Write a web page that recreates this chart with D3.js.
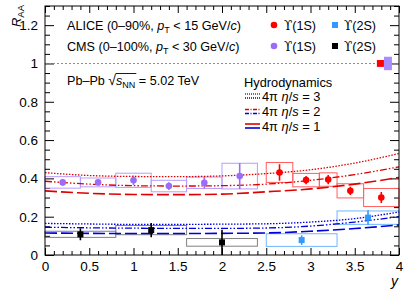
<!DOCTYPE html>
<html><head><meta charset="utf-8">
<script src="https://cdn.jsdelivr.net/npm/d3@7"></script>
<style>
body{margin:0;background:#fff}
svg{display:block}
text{font-family:"Liberation Sans",Arial,Helvetica,sans-serif;fill:#000}
</style>
</head><body>
<svg id="c" width="407" height="294"></svg>
<script>
// ---------------- DATA ----------------
// ALICE Upsilon(1S), 0-90%
const aliceY1S_y    = [2.65, 2.95, 3.2, 3.45, 3.8];
const aliceY1S_lo   = [2.5, 2.8, 3.1, 3.3, 3.6];
const aliceY1S_hi   = [2.8, 3.1, 3.3, 3.6, 4.0];
const aliceY1S_raa  = [0.431, 0.391, 0.394, 0.335, 0.300];
const aliceY1S_stat = [0.043, 0.021, 0.024, 0.022, 0.029];
const aliceY1S_syst = [0.052, 0.035, 0.035, 0.037, 0.047];
// ALICE Upsilon(2S)
const aliceY2S_y    = [2.9, 3.65];
const aliceY2S_lo   = [2.5, 3.3];
const aliceY2S_hi   = [3.3, 4.0];
const aliceY2S_raa  = [0.078, 0.195];
const aliceY2S_stat = [0.025, 0.039];
const aliceY2S_syst = [0.033, 0.035];
// CMS Upsilon(1S), 0-100%
const cmsY1S_y    = [0.2, 0.6, 1.0, 1.4, 1.8, 2.2];
const cmsY1S_lo   = [0.0, 0.4, 0.8, 1.2, 1.6, 2.0];
const cmsY1S_hi   = [0.4, 0.8, 1.2, 1.6, 2.0, 2.4];
const cmsY1S_raa  = [0.379, 0.379, 0.390, 0.360, 0.377, 0.412];
const cmsY1S_stat = [0.018, 0.015, 0.025, 0.020, 0.030, 0.068];
const cmsY1S_syst = [0.030, 0.023, 0.037, 0.030, 0.030, 0.067];
// CMS Upsilon(2S)
const cmsY2S_y    = [0.4, 1.2, 2.0];
const cmsY2S_lo   = [0.0, 0.8, 1.6];
const cmsY2S_hi   = [0.8, 1.6, 2.4];
const cmsY2S_raa  = [0.108, 0.130, 0.066];
const cmsY2S_stat = [0.031, 0.037, 0.066];
const cmsY2S_syst = [0.016, 0.024, 0.020];
// Global uncertainties at RAA = 1
const globalNames = ["ALICE", "CMS"];
const globalErr   = [0.018, 0.035];

// Hydrodynamics predictions
const hydroY      = [0, 0.5, 1, 1.5, 2, 2.5, 3, 3.5, 4];
const hydro1S_eta3 = [0.430, 0.415, 0.410, 0.409, 0.413, 0.425, 0.445, 0.480, 0.530];
const hydro1S_eta2 = [0.385, 0.370, 0.362, 0.360, 0.362, 0.370, 0.390, 0.420, 0.460];
const hydro1S_eta1 = [0.335, 0.322, 0.316, 0.315, 0.318, 0.330, 0.345, 0.370, 0.405];
const hydro2S_eta3 = [0.165, 0.162, 0.160, 0.160, 0.161, 0.163, 0.172, 0.190, 0.225];
const hydro2S_eta2 = [0.145, 0.142, 0.140, 0.139, 0.139, 0.141, 0.151, 0.172, 0.200];
const hydro2S_eta1 = [0.115, 0.113, 0.112, 0.112, 0.113, 0.115, 0.124, 0.138, 0.157];
const hydroLabels  = ["3", "2", "1"];

// Axis ticks
const xTicks = [0, 0.5, 1, 1.5, 2, 2.5, 3, 3.5, 4];
const xTickLabels = ["0", "0.5", "1", "1.5", "2", "2.5", "3", "3.5", "4"];
const yTicks = [0, 0.2, 0.4, 0.6, 0.8, 1.0, 1.2];
const yTickLabels = ["0", "0.2", "0.4", "0.6", "0.8", "1", "1.2"];

// ---------------- DRAW ----------------
const svg = d3.select("#c");
const L = 45, R = 399, T = 6, B = 255;
const x = d3.scaleLinear([0, 4], [L, R]);
const y = d3.scaleLinear([0, 1.3], [B, T]);

const C = {
  red: "#ff0000", redBox: "#ff5f5f",
  pur: "#9b6cf6", purBox: "#b69cff",
  blu: "#3399ff", bluBox: "#6fb6ff",
  blk: "#000000", blkBox: "#808080",
  hRed: "#e00000", hBlue: "#0000dd"
};

// ticks
const xMinor = d3.range(0, 41).map(i => i / 10).filter(v => Math.abs(v * 2 - Math.round(v * 2)) > 1e-6);
const yMinor = d3.range(0, 27).map(i => i * 0.05).filter(v => Math.abs(v * 5 - Math.round(v * 5)) > 1e-6);

function styleAxis(g) {
  g.select(".domain").remove();
  g.selectAll("line").attr("stroke", "#000").attr("stroke-width", 1);
  g.selectAll("text").attr("font-size", 13.5).attr("fill", "#000")
    .attr("font-family", '"Liberation Sans",Arial,sans-serif');
}
svg.append("g").attr("transform", `translate(0,${B})`)
  .call(d3.axisBottom(x).tickValues(xTicks).tickSize(-7).tickPadding(6)
    .tickFormat((d, i) => xTickLabels[i])).call(styleAxis);
svg.append("g").attr("transform", `translate(0,${B})`)
  .call(d3.axisBottom(x).tickValues(xMinor).tickSize(-4).tickFormat("")).call(styleAxis);
svg.append("g").attr("transform", `translate(0,${T})`)
  .call(d3.axisTop(x).tickValues(xTicks).tickSize(-7).tickFormat("")).call(styleAxis);
svg.append("g").attr("transform", `translate(0,${T})`)
  .call(d3.axisTop(x).tickValues(xMinor).tickSize(-4).tickFormat("")).call(styleAxis);
svg.append("g").attr("transform", `translate(${L},0)`)
  .call(d3.axisLeft(y).tickValues(yTicks).tickSize(-9).tickPadding(7)
    .tickFormat((d, i) => yTickLabels[i])).call(styleAxis);
svg.append("g").attr("transform", `translate(${L},0)`)
  .call(d3.axisLeft(y).tickValues(yMinor).tickSize(-5).tickFormat("")).call(styleAxis);
svg.append("g").attr("transform", `translate(${R},0)`)
  .call(d3.axisRight(y).tickValues(yTicks).tickSize(-9).tickFormat("")).call(styleAxis);
svg.append("g").attr("transform", `translate(${R},0)`)
  .call(d3.axisRight(y).tickValues(yMinor).tickSize(-5).tickFormat("")).call(styleAxis);

// dotted line at 1
svg.append("line").attr("x1", x(0)).attr("x2", x(4)).attr("y1", y(1)).attr("y2", y(1))
  .attr("stroke", "#8a8a8a").attr("stroke-width", 1).attr("stroke-dasharray", "2,2");

// global boxes
const gX = [[3.75, 3.83], [3.83, 3.92]];
const gCol = [C.red, "#a98cff"];
globalErr.forEach((e, i) => {
  svg.append("rect").attr("x", x(gX[i][0])).attr("width", x(gX[i][1]) - x(gX[i][0]))
    .attr("y", y(1 + e)).attr("height", y(1 - e) - y(1 + e)).attr("fill", gCol[i]);
});

// systematic boxes
function boxes(yv, lo, hi, raa, syst, col) {
  svg.append("g").selectAll("rect").data(yv).join("rect")
    .attr("x", (d, i) => x(lo[i])).attr("width", (d, i) => x(hi[i]) - x(lo[i]))
    .attr("y", (d, i) => y(raa[i] + syst[i]))
    .attr("height", (d, i) => y(raa[i] - syst[i]) - y(raa[i] + syst[i]))
    .attr("fill", "none").attr("stroke", col).attr("stroke-width", 1);
}
boxes(cmsY2S_y, cmsY2S_lo, cmsY2S_hi, cmsY2S_raa, cmsY2S_syst, C.blkBox);
boxes(cmsY1S_y, cmsY1S_lo, cmsY1S_hi, cmsY1S_raa, cmsY1S_syst, C.purBox);
boxes(aliceY2S_y, aliceY2S_lo, aliceY2S_hi, aliceY2S_raa, aliceY2S_syst, C.bluBox);
boxes(aliceY1S_y, aliceY1S_lo, aliceY1S_hi, aliceY1S_raa, aliceY1S_syst, C.redBox);

// hydro curves
const dashes = { eta3: "1.5,1.5", eta2: "7,2,1.5,2,1.5,2", eta1: "12,4" };
const widths = { eta3: 1.3, eta2: 1.3, eta1: 1.6 };
const line = d3.line().x((d, i) => x(hydroY[i])).y(d => y(d)).curve(d3.curveMonotoneX);
[[hydro1S_eta3, C.hRed, "eta3"], [hydro1S_eta2, C.hRed, "eta2"], [hydro1S_eta1, C.hRed, "eta1"],
 [hydro2S_eta3, C.hBlue, "eta3"], [hydro2S_eta2, C.hBlue, "eta2"], [hydro2S_eta1, C.hBlue, "eta1"]]
  .forEach(([vals, col, k]) => {
    svg.append("path").attr("d", line(vals)).attr("fill", "none").attr("stroke", col)
      .attr("stroke-width", widths[k]).attr("stroke-dasharray", dashes[k]);
  });

// points with stat errors
function points(yv, raa, stat, col, shape) {
  const g = svg.append("g");
  g.selectAll("line").data(yv).join("line")
    .attr("x1", d => x(d)).attr("x2", d => x(d))
    .attr("y1", (d, i) => y(Math.max(0, raa[i] - stat[i])))
    .attr("y2", (d, i) => y(raa[i] + stat[i]))
    .attr("stroke", col).attr("stroke-width", 1.6);
  if (shape === "circle") {
    g.selectAll("circle").data(yv).join("circle")
      .attr("cx", d => x(d)).attr("cy", (d, i) => y(raa[i])).attr("r", 3.3).attr("fill", col);
  } else {
    g.selectAll("rect").data(yv).join("rect")
      .attr("x", d => x(d) - 3).attr("y", (d, i) => y(raa[i]) - 3)
      .attr("width", 6).attr("height", 6).attr("fill", col);
  }
}
points(cmsY2S_y, cmsY2S_raa, cmsY2S_stat, C.blk, "square");
points(cmsY1S_y, cmsY1S_raa, cmsY1S_stat, C.pur, "circle");
points(aliceY2S_y, aliceY2S_raa, aliceY2S_stat, C.blu, "square");
points(aliceY1S_y, aliceY1S_raa, aliceY1S_stat, C.red, "circle");

// frame
svg.append("rect").attr("x", L).attr("y", T).attr("width", R - L).attr("height", B - T)
  .attr("fill", "none").attr("stroke", "#000").attr("stroke-width", 1);

// axis titles
const rt = svg.append("text").attr("transform", "translate(21,5) rotate(-90)")
  .attr("text-anchor", "end").attr("font-size", 13);
rt.append("tspan").attr("font-style", "italic").text("R");
rt.append("tspan").attr("font-size", 9.5).attr("dy", 3).text("AA");
svg.append("text").attr("x", 398).attr("y", 286).attr("text-anchor", "end")
  .attr("font-size", 14).attr("font-style", "italic").text("y");

// legend text rows
function expLine(yb, label, lim) {
  const t = svg.append("text").attr("x", 67).attr("y", yb).attr("font-size", 12.6);
  t.append("tspan").text(label + ", ");
  t.append("tspan").attr("font-style", "italic").text("p");
  t.append("tspan").attr("font-size", 9).attr("dy", 3).text("T");
  t.append("tspan").attr("dy", -3).text(" < " + lim + " GeV/");
  t.append("tspan").attr("font-style", "italic").text("c");
  t.append("tspan").text(")");
}
expLine(29.5, "ALICE (0–90%", "15");
expLine(50.5, "CMS (0–100%", "30");

function upsLabel(xp, yb, txt) {
  const t = svg.append("text").attr("x", xp).attr("y", yb).attr("font-size", 12.6);
  t.append("tspan").attr("font-family", '"DejaVu Serif",serif').attr("font-size", 12).text("ϒ");
  t.append("tspan").text(txt);
}
svg.append("circle").attr("cx", 274).attr("cy", 25).attr("r", 3.3).attr("fill", C.red);
upsLabel(284, 29.5, "(1S)");
svg.append("rect").attr("x", 332).attr("y", 22).attr("width", 6).attr("height", 6).attr("fill", C.blu);
upsLabel(344, 29.5, "(2S)");
svg.append("circle").attr("cx", 274).attr("cy", 46).attr("r", 3.3).attr("fill", C.pur);
upsLabel(284, 50.5, "(1S)");
svg.append("rect").attr("x", 332).attr("y", 43).attr("width", 6).attr("height", 6).attr("fill", C.blk);
upsLabel(344, 50.5, "(2S)");

// Pb-Pb sqrt(sNN)
const pt = svg.append("text").attr("x", 67).attr("y", 84.5).attr("font-size", 12.6);
pt.append("tspan").text("Pb–Pb ");
pt.append("tspan").attr("font-size", 14).text("√");
pt.append("tspan").attr("font-style", "italic").text("s");
pt.append("tspan").attr("font-size", 9).attr("dy", 3).text("NN");
pt.append("tspan").attr("dy", -3).text(" = 5.02 TeV");
{
  const node = pt.node();
  const e1 = node.getExtentOfChar(9);
  const eR = node.getExtentOfChar(6);
  svg.append("line").attr("x1", eR.x + eR.width - 0.5).attr("x2", e1.x + e1.width + 1)
    .attr("y1", eR.y + 2).attr("y2", eR.y + 2).attr("stroke", "#000").attr("stroke-width", 0.9);
}

// hydro legend
svg.append("text").attr("x", 244).attr("y", 87).attr("font-size", 12.8).text("Hydrodynamics");
const rowC = [96, 111.5, 126];
["eta3", "eta2", "eta1"].forEach((k, i) => {
  [[C.hRed, -2], [C.hBlue, 2]].forEach(([col, off]) => {
    svg.append("line").attr("x1", 245).attr("x2", 260).attr("y1", rowC[i] + off).attr("y2", rowC[i] + off)
      .attr("stroke", col).attr("stroke-width", widths[k])
      .attr("stroke-dasharray", k === "eta3" ? "1,1" : (k === "eta2" ? "4,1.5,1,1.5" : null));
  });
  const t = svg.append("text").attr("x", 262).attr("y", rowC[i] + 4.5).attr("font-size", 12.8);
  t.append("tspan").text("4π  ");
  t.append("tspan").attr("font-style", "italic").text("η");
  t.append("tspan").text("/");
  t.append("tspan").attr("font-style", "italic").text("s");
  t.append("tspan").text(" = " + hydroLabels[i]);
});
</script>
</body></html>
